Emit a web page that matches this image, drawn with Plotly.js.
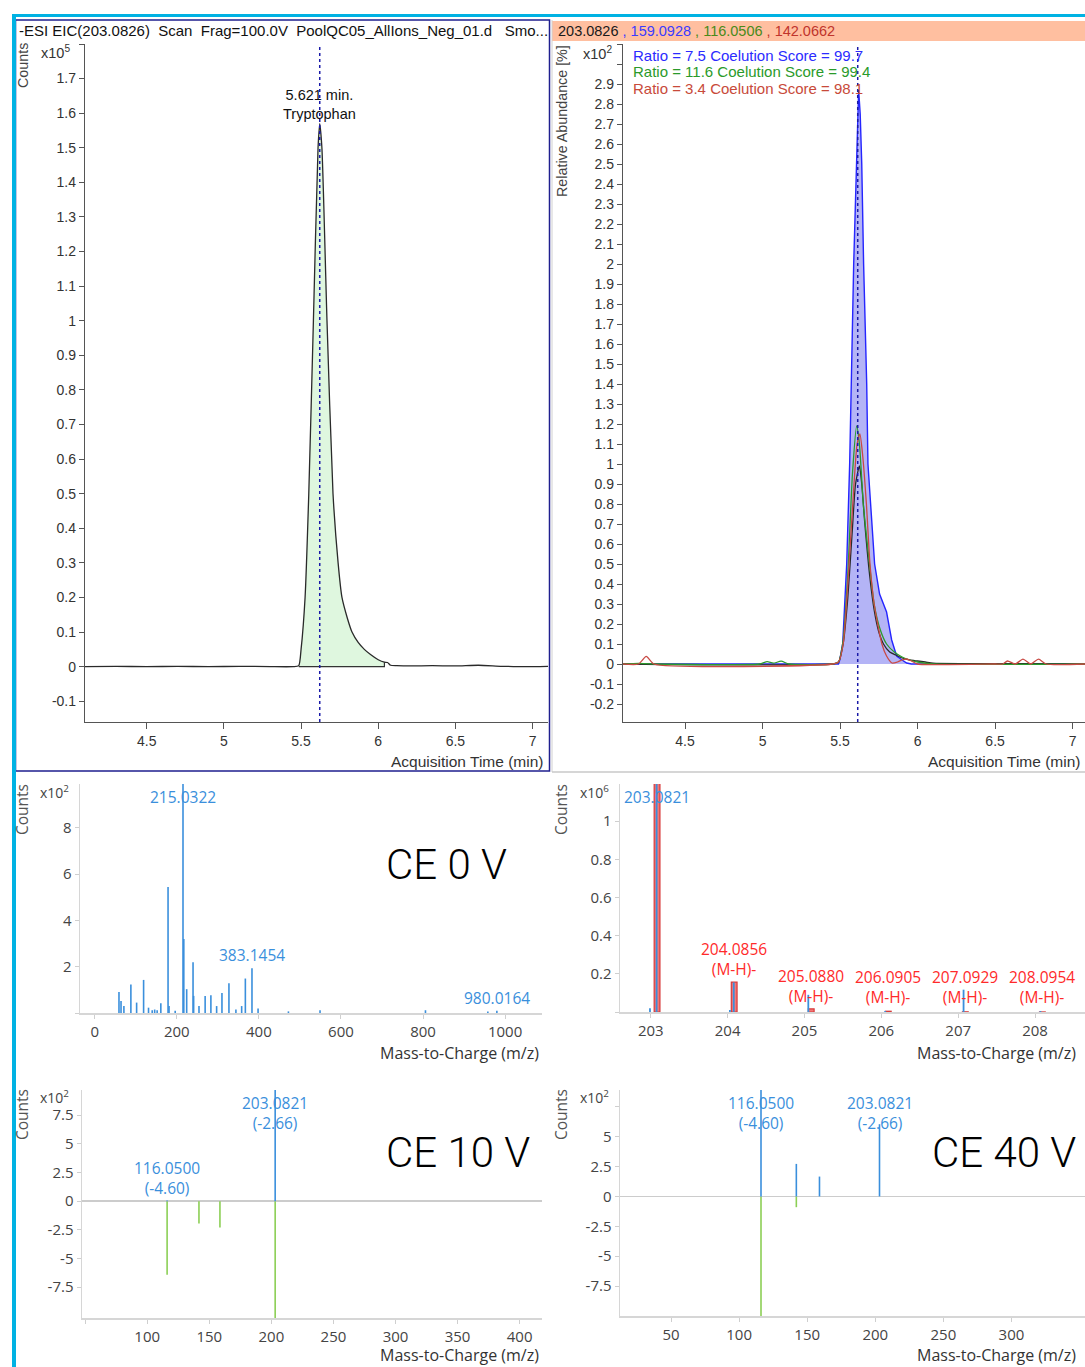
<!DOCTYPE html>
<html>
<head>
<meta charset="utf-8">
<script src="https://cdn.plot.ly/plotly-3.0.1.min.js"></script>
<style>html,body{margin:0;padding:0;background:#fff;}#chart{width:1085px;height:1367px;}</style>
</head>
<body>
<div id="chart"></div>
<script>
// ---------------- DATA ----------------
// Panel 1: EIC 203.0826 (counts x10^5)
const eicTime   = [4.10, 4.30, 4.50, 4.70, 4.90, 5.10, 5.30, 5.45, 5.485, 5.50, 5.526, 5.55, 5.58, 5.61, 5.621, 5.635, 5.668, 5.707, 5.74, 5.765, 5.80, 5.83, 5.87, 5.91, 5.95, 6.00, 6.04, 6.06, 6.08, 6.12, 6.20, 6.35, 6.50, 6.65, 6.80, 6.95, 7.10];
const eicCounts = [0.000, 0.001, 0.000, 0.001, 0.000, 0.001, 0.000, 0.000, 0.003, 0.05, 0.20, 0.50, 1.00, 1.50, 1.57, 1.50, 1.00, 0.50, 0.30, 0.20, 0.14, 0.10, 0.07, 0.05, 0.035, 0.02, 0.013, 0.012, 0.004, 0.003, 0.002, 0.003, 0.002, 0.004, 0.001, 0.000, 0.001];
const peakRT = 5.621;
const peakName = "Tryptophan";
const integStart = 5.485, integEnd = 6.04;

// Panel 2: coelution of qualifiers (relative abundance x10^2)
const qualRT = 5.614;
const bTime = [4.10, 5.40, 5.49, 5.498, 5.517, 5.543, 5.562, 5.588, 5.605, 5.62, 5.63, 5.64, 5.652, 5.672, 5.68, 5.704, 5.723, 5.755, 5.78, 5.80, 5.833, 5.865, 5.90, 5.93, 5.96, 6.10, 7.08];
const bVal  = [0, 0, 0, 0.02, 0.1, 0.5, 1.0, 2.0, 2.5, 2.87, 2.75, 2.5, 2.0, 1.4, 1.0, 0.7, 0.5, 0.35, 0.3, 0.26, 0.12, 0.04, 0.02, 0.005, 0, 0, 0];
const kTime = [4.10, 5.45, 5.49, 5.52, 5.55, 5.58, 5.60, 5.625, 5.64, 5.66, 5.69, 5.72, 5.75, 5.78, 5.82, 5.86, 5.90, 5.95, 6.00, 6.05, 6.10, 6.30, 6.60, 7.08];
const kVal  = [0, 0, 0.01, 0.1, 0.33, 0.68, 0.9, 0.99, 0.9, 0.7, 0.45, 0.27, 0.16, 0.1, 0.06, 0.045, 0.03, 0.02, 0.015, 0.01, 0.004, 0.002, 0.002, 0];
const gTime = [4.10, 4.20, 4.30, 4.98, 5.03, 5.07, 5.12, 5.17, 5.45, 5.49, 5.52, 5.55, 5.58, 5.607, 5.625, 5.65, 5.69, 5.72, 5.76, 5.80, 5.85, 5.90, 5.95, 6.00, 6.10, 7.08];
const gVal  = [0, 0.003, 0, 0, 0.012, 0.004, 0.014, 0, 0, 0.01, 0.12, 0.45, 0.95, 1.19, 1.10, 0.80, 0.50, 0.30, 0.17, 0.10, 0.06, 0.035, 0.02, 0.01, 0, 0];
const rTime = [4.10, 4.20, 4.25, 4.30, 5.45, 5.49, 5.52, 5.55, 5.59, 5.61, 5.628, 5.645, 5.67, 5.693, 5.72, 5.77, 5.80, 5.835, 5.87, 5.90, 5.93, 5.96, 6.00, 6.50, 6.55, 6.58, 6.63, 6.68, 6.73, 6.78, 6.83, 7.08];
const rVal  = [0, 0, 0.038, 0, 0, 0.01, 0.1, 0.4, 0.9, 1.1, 1.15, 1.05, 0.8, 0.5, 0.3, 0.1, 0.04, 0.005, 0.01, 0.02, 0.025, 0.015, 0, 0, 0, 0.015, 0, 0.024, 0, 0.024, 0, 0];
const ratioText = ["Ratio = 7.5 Coelution Score = 99.7", "Ratio = 11.6 Coelution Score = 99.4", "Ratio = 3.4 Coelution Score = 98.1"];
const ionList = ["203.0826", "159.0928", "116.0506", "142.0662"];

// Panel 3: CE 0 V spectrum (counts x10^2)
const ce0Mz  = [59, 64, 71, 88, 102, 119, 131, 140, 146, 152, 161, 178.6, 181, 196, 215.0322, 217, 224, 239.5, 241, 254, 269, 283, 297, 310, 327, 344, 358, 367, 383.1454, 398, 472, 549, 806, 958, 980.0164];
const ce0Int = [0.91, 0.52, 0.30, 1.23, 0.45, 1.43, 0.23, 0.12, 0.15, 0.12, 0.42, 5.45, 0.30, 0.10, 10.5, 3.2, 1.03, 2.19, 0.74, 0.30, 0.74, 0.77, 0.30, 0.86, 1.29, 0.15, 0.30, 1.49, 1.94, 0.19, 0.07, 0.12, 0.12, 0.06, 0.10];
const ce0Labels = ["215.0322", "383.1454", "980.0164"];

// Panel 4: isotope pattern (counts x10^6)
const isoMz  = [203.0821, 204.0856, 205.0880, 206.0905, 207.0929, 208.0954];
const isoInt = [1.30, 0.157, 0.016, 0.004, 0.001, 0.0003];
const obsMz  = [202.99, 203.076, 204.03, 204.08, 205.05, 206.05, 207.07, 208.07];
const obsInt = [0.02, 1.30, 0.01, 0.155, 0.09, 0.005, 0.117, 0.005];

// Panel 5: CE 10 V (observed up, library down; counts x10^2)
const ce10ObsMz  = [116.05, 203.0821];
const ce10ObsInt = [0.05, 12];
const ce10LibMz  = [116.05, 141.7, 158.6, 203.0821];
const ce10LibInt = [6.43, 1.96, 2.30, 12];

// Panel 6: CE 40 V
const ce40ObsMz  = [116.05, 142.0, 159.0, 203.0821];
const ce40ObsInt = [12, 2.72, 1.66, 6.04];
const ce40LibMz  = [116.05, 142.0];
const ce40LibInt = [12, 0.90];
const fragLabels = [{mz:116.05, text:"116.0500<br>(-4.60)"}, {mz:203.0821, text:"203.0821<br>(-2.66)"}];

// ---------------- HELPERS ----------------
const W = 1085, H = 1367;
const px = v => v / W;
const py = v => 1 - v / H;
function sticks(mz, val, sign) {
  const x = [], y = [];
  mz.forEach((m, i) => { x.push(m, m, null); y.push(0, sign * val[i], null); });
  return {x, y};
}
function steps(a, b, s) { const out = []; for (let v = a; v <= b + 1e-9; v += s) out.push(Math.round(v * 10) / 10); return out; }

const chromFamily = "Liberation Sans, Arial, sans-serif";
const specFamily = "Open Sans, Noto Sans, sans-serif";
const chromTick = {family: chromFamily, size: 14, color: "#333"};
const specTick = {family: specFamily, size: 15, color: "#444"};
const blueSpec = "#3a8fdc", greenSpec = "#8ccf55";

function chromX(dom, rng, anchor) {
  return {domain: dom, range: rng, anchor: anchor, tickvals: [4.5, 5, 5.5, 6, 6.5, 7], ticktext: ["4.5","5","5.5","6","6.5","7"],
    showline: true, linecolor: "#555", linewidth: 1.2, ticks: "outside", ticklen: 6, tickcolor: "#555",
    tickfont: chromTick, showgrid: false, zeroline: false, fixedrange: true};
}
function chromY(dom, rng, anchor, vals, hideFrom) {
  return {domain: dom, range: rng, anchor: anchor, tickvals: vals,
    ticktext: vals.map(v => v >= hideFrom ? "" : String(+v.toFixed(1))),
    showline: true, linecolor: "#555", linewidth: 1.2, ticks: "outside", ticklen: 5, tickcolor: "#555",
    tickfont: chromTick, showgrid: false, zeroline: false, fixedrange: true};
}
function specAx(dom, rng, anchor, vals, texts, zl) {
  return {domain: dom, range: rng, anchor: anchor, tickvals: vals, ticktext: texts,
    showline: true, linecolor: "#d6d6d6", linewidth: 1.5, ticks: "outside", ticklen: 4, tickcolor: "#cfcfcf",
    tickfont: specTick, showgrid: false, zeroline: !!zl, zerolinecolor: "#cccccc", zerolinewidth: 1.5, fixedrange: true};
}

// ---------------- TRACES ----------------
const traces = [];
// Panel 1
const fillIdx = eicTime.map((t, i) => i).filter(i => eicTime[i] >= integStart && eicTime[i] <= integEnd);
const fx = fillIdx.map(i => eicTime[i]), fy = fillIdx.map(i => eicCounts[i]);
traces.push({x: fx, y: fy, xaxis: "x", yaxis: "y", mode: "lines", fill: "tozeroy", fillcolor: "#dff7df", line: {color: "rgba(0,0,0,0)", width: 0}, hoverinfo: "skip"});
traces.push({x: [fx[0], fx[fx.length - 1], fx[fx.length - 1]], y: [0, 0, fy[fy.length - 1]], xaxis: "x", yaxis: "y", mode: "lines", line: {color: "#333", width: 1.2}, hoverinfo: "skip"});
traces.push({x: eicTime, y: eicCounts, xaxis: "x", yaxis: "y", mode: "lines", line: {color: "#2a2a2a", width: 1.3, shape: "spline", smoothing: 0.6}});
// Panel 2
traces.push({x: bTime, y: bVal, xaxis: "x2", yaxis: "y2", mode: "lines", fill: "tozeroy", fillcolor: "#b4b4f6", line: {color: "#2525ff", width: 1.4}});
traces.push({x: kTime, y: kVal, xaxis: "x2", yaxis: "y2", mode: "lines", line: {color: "#2a2a2a", width: 1.3, shape: "spline", smoothing: 0.6}});
traces.push({x: gTime, y: gVal, xaxis: "x2", yaxis: "y2", mode: "lines", line: {color: "#2c9a2c", width: 1.3, shape: "spline", smoothing: 0.6}});
traces.push({x: rTime, y: rVal, xaxis: "x2", yaxis: "y2", mode: "lines", line: {color: "#c94a44", width: 1.3, shape: "spline", smoothing: 0.6}});
// Panel 3
const s3 = sticks(ce0Mz, ce0Int, 1);
traces.push({x: s3.x, y: s3.y, xaxis: "x3", yaxis: "y3", mode: "lines", line: {color: blueSpec, width: 1.6}});
// Panel 4
traces.push({type: "bar", x: isoMz, y: isoInt, width: 0.075, xaxis: "x4", yaxis: "y4", marker: {color: "#f27878", line: {color: "#d83a3a", width: 1.2}}});
const s4 = sticks(obsMz, obsInt, 1);
traces.push({x: s4.x, y: s4.y, xaxis: "x4", yaxis: "y4", mode: "lines", line: {color: blueSpec, width: 1.8}});
// Panel 5
const s5a = sticks(ce10ObsMz, ce10ObsInt, 1), s5b = sticks(ce10LibMz, ce10LibInt, -1);
traces.push({x: s5b.x, y: s5b.y, xaxis: "x5", yaxis: "y5", mode: "lines", line: {color: greenSpec, width: 1.6}});
traces.push({x: s5a.x, y: s5a.y, xaxis: "x5", yaxis: "y5", mode: "lines", line: {color: blueSpec, width: 1.6}});
// Panel 6
const s6a = sticks(ce40ObsMz, ce40ObsInt, 1), s6b = sticks(ce40LibMz, ce40LibInt, -1);
traces.push({x: s6b.x, y: s6b.y, xaxis: "x6", yaxis: "y6", mode: "lines", line: {color: greenSpec, width: 1.6}});
traces.push({x: s6a.x, y: s6a.y, xaxis: "x6", yaxis: "y6", mode: "lines", line: {color: blueSpec, width: 1.6}});

// ---------------- ANNOTATIONS ----------------
const ann = [];
const A = (o) => ann.push(Object.assign({showarrow: false, xref: "paper", yref: "paper", xanchor: "center", yanchor: "middle"}, o));
const cf = (size, color) => ({family: chromFamily, size: size, color: color});
const sf = (size, color) => ({family: specFamily, size: size, color: color});
const ceFont = {family: "Roboto", size: 42, color: "#000", weight: 300};

// Panel 1
A({x: px(17), y: py(30), xanchor: "left", text: "-ESI EIC(203.0826) &nbsp;Scan &nbsp;Frag=100.0V &nbsp;PoolQC05_AllIons_Neg_01.d &nbsp;&nbsp;Smo...", font: cf(15, "#111")});
A({x: px(23), y: py(66), textangle: -90, text: "Counts", font: cf(14.3, "#444")});
A({x: px(55), y: py(52), text: "x10<sup>5</sup>", font: cf(14.5, "#333")});
A({x: peakRT, xref: "x", y: py(104), text: peakRT.toFixed(3) + " min.<br>" + peakName, font: cf(14.5, "#111")});
A({x: px(545), y: py(761), xanchor: "right", text: "Acquisition Time (min)", font: cf(15.5, "#333")});
// Panel 2
const ionColors = ["#1a1a1a", "#3b3bff", "#4a8a1a", "#c0342c"];
A({x: px(556), y: py(31), xanchor: "left", text: ionList.map((t, i) => `<span style="color:${ionColors[i]}">${i ? " , " : ""}${t}</span>`).join(""), font: cf(14.5, "#111")});
A({x: px(562), y: py(121), textangle: -90, text: "Relative Abundance [%]", font: cf(14.3, "#444")});
A({x: px(597), y: py(53), text: "x10<sup>2</sup>", font: cf(14.5, "#333")});
const ratioColors = ["#2b2bff", "#2a9a2a", "#c84a3a"];
ratioText.forEach((t, i) => A({x: px(631), y: py(55 + 17 * i), xanchor: "left", text: t, font: cf(15, ratioColors[i])}));
A({x: px(1082), y: py(761), xanchor: "right", text: "Acquisition Time (min)", font: cf(15.5, "#333")});
// Panel 3
A({x: px(22), y: py(810), textangle: -90, text: "Counts", font: sf(15.5, "#555")});
A({x: px(54), y: py(792), text: "x10<sup>2</sup>", font: sf(14, "#444")});
ce0Labels.forEach(lbl => {
  const i = ce0Mz.indexOf(+lbl);
  if (+lbl === 215.0322) A({x: ce0Mz[i], xref: "x3", y: 1, yref: "y3 domain", yanchor: "top", text: lbl, font: sf(15.5, blueSpec)});
  else A({x: ce0Mz[i], xref: "x3", y: ce0Int[i], yref: "y3", yanchor: "bottom", text: lbl, font: sf(15.5, blueSpec)});
});
A({x: px(446), y: py(864), text: "CE 0 V", font: ceFont});
A({x: px(541), y: py(1053), xanchor: "right", text: "Mass-to-Charge (m/z)", font: sf(16, "#333")});
// Panel 4
A({x: px(561), y: py(810), textangle: -90, text: "Counts", font: sf(15.5, "#555")});
A({x: px(594), y: py(792), text: "x10<sup>6</sup>", font: sf(14, "#444")});
A({x: isoMz[0], xref: "x4", y: 1, yref: "y4 domain", yanchor: "top", text: isoMz[0].toFixed(4), font: sf(15.5, blueSpec)});
isoMz.slice(1).forEach((m, j) => A({x: m, xref: "x4", y: Math.max(isoInt[j + 1], 0.012), yref: "y4", yanchor: "bottom", text: m.toFixed(4) + "<br>(M-H)-", font: sf(15.5, "#ff2a2a")}));
A({x: px(1078), y: py(1053), xanchor: "right", text: "Mass-to-Charge (m/z)", font: sf(16, "#333")});
// Panel 5
A({x: px(22), y: py(1115), textangle: -90, text: "Counts", font: sf(15.5, "#555")});
A({x: px(54), y: py(1097), text: "x10<sup>2</sup>", font: sf(14, "#444")});
A({x: fragLabels[1].mz, xref: "x5", y: 1, yref: "y5 domain", yanchor: "top", text: fragLabels[1].text, font: sf(15.5, blueSpec)});
A({x: fragLabels[0].mz, xref: "x5", y: 0, yref: "y5", yanchor: "bottom", text: fragLabels[0].text, font: sf(15.5, blueSpec)});
A({x: px(458), y: py(1152), text: "CE 10 V", font: ceFont});
A({x: px(541), y: py(1355), xanchor: "right", text: "Mass-to-Charge (m/z)", font: sf(16, "#333")});
// Panel 6
A({x: px(561), y: py(1115), textangle: -90, text: "Counts", font: sf(15.5, "#555")});
A({x: px(594), y: py(1097), text: "x10<sup>2</sup>", font: sf(14, "#444")});
fragLabels.forEach(f => A({x: f.mz, xref: "x6", y: 1, yref: "y6 domain", yanchor: "top", text: f.text, font: sf(15.5, blueSpec)}));
A({x: px(1004), y: py(1152), text: "CE 40 V", font: ceFont});
A({x: px(1078), y: py(1355), xanchor: "right", text: "Mass-to-Charge (m/z)", font: sf(16, "#333")});

// ---------------- SHAPES ----------------
const shapes = [
  {type: "rect", xref: "paper", yref: "paper", x0: px(552), x1: 1, y0: py(41), y1: py(21), fillcolor: "#ffbfa0", line: {width: 0}, layer: "below"},
  {type: "rect", xref: "paper", yref: "paper", x0: px(15.5), x1: px(549.5), y0: py(771), y1: py(20), fillcolor: "rgba(0,0,0,0)", line: {color: "#1f1f8f", width: 1.5}},
  {type: "line", xref: "paper", yref: "paper", x0: px(552), x1: px(552), y0: py(772), y1: py(20), line: {color: "#d0d0d0", width: 1}},
  {type: "line", xref: "paper", yref: "paper", x0: px(552), x1: 1, y0: py(772), y1: py(772), line: {color: "#c8c8c8", width: 1.5}},
  {type: "rect", xref: "paper", yref: "paper", x0: px(12), x1: px(16), y0: 0, y1: py(14), fillcolor: "#00b2e3", line: {width: 0}},
  {type: "rect", xref: "paper", yref: "paper", x0: px(12), x1: 1, y0: py(17), y1: py(14), fillcolor: "#00b2e3", line: {width: 0}},
  {type: "line", xref: "x", yref: "y domain", x0: peakRT, x1: peakRT, y0: 0, y1: 1, line: {color: "#1a1aa8", width: 1.5, dash: "dot"}},
  {type: "line", xref: "x2", yref: "y2 domain", x0: qualRT, x1: qualRT, y0: 0, y1: 1, line: {color: "#1a1aa8", width: 1.5, dash: "dot"}}
];

// ---------------- LAYOUT ----------------
const layout = {
  width: W, height: H, margin: {l: 0, r: 0, t: 0, b: 0}, paper_bgcolor: "#fff", plot_bgcolor: "rgba(0,0,0,0)",
  showlegend: false, bargap: 0,
  xaxis: chromX([px(85), px(548)], [4.1, 7.1], "y"),
  yaxis: chromY([py(722), py(44)], [-0.16, 1.8], "x", steps(-0.1, 1.8, 0.1), 1.75),
  xaxis2: chromX([px(623), 1], [4.1, 7.08], "y2"),
  yaxis2: chromY([py(722), py(44)], [-0.29, 3.1], "x2", steps(-0.2, 3.1, 0.1), 2.95),
  xaxis3: specAx([px(80), px(542)], [-36, 1090], "y3", [0, 200, 400, 600, 800, 1000], ["0","200","400","600","800","1000"]),
  yaxis3: specAx([py(1013), py(784)], [0, 9.9], "x3", [0, 2, 4, 6, 8], ["", "2", "4", "6", "8"]),
  xaxis4: specAx([px(620), 1], [202.6, 208.65], "y4", [203, 204, 205, 206, 207, 208], ["203","204","205","206","207","208"]),
  yaxis4: specAx([py(1012), py(784)], [0, 1.195], "x4", [0, 0.2, 0.4, 0.6, 0.8, 1], ["", "0.2", "0.4", "0.6", "0.8", "1"]),
  xaxis5: specAx([px(82), px(542)], [47.5, 418], "y5", [50, 100, 150, 200, 250, 300, 350, 400], ["", "100","150","200","250","300","350","400"]),
  yaxis5: specAx([py(1318), py(1090)], [-10.2, 9.7], "x5", [-7.5, -5, -2.5, 0, 2.5, 5, 7.5], ["-7.5","-5","-2.5","0","2.5","5","7.5"], true),
  xaxis6: specAx([px(620), 1], [12.5, 354], "y6", [50, 100, 150, 200, 250, 300], ["50","100","150","200","250","300"]),
  yaxis6: specAx([py(1316), py(1090)], [-10, 8.9], "x6", [-7.5, -5, -2.5, 0, 2.5, 5, 7.5], ["-7.5","-5","-2.5","0","2.5","5",""], true),
  annotations: ann, shapes: shapes
};

Plotly.newPlot("chart", traces, layout, {staticPlot: true, displayModeBar: false});
</script>
</body>
</html>
